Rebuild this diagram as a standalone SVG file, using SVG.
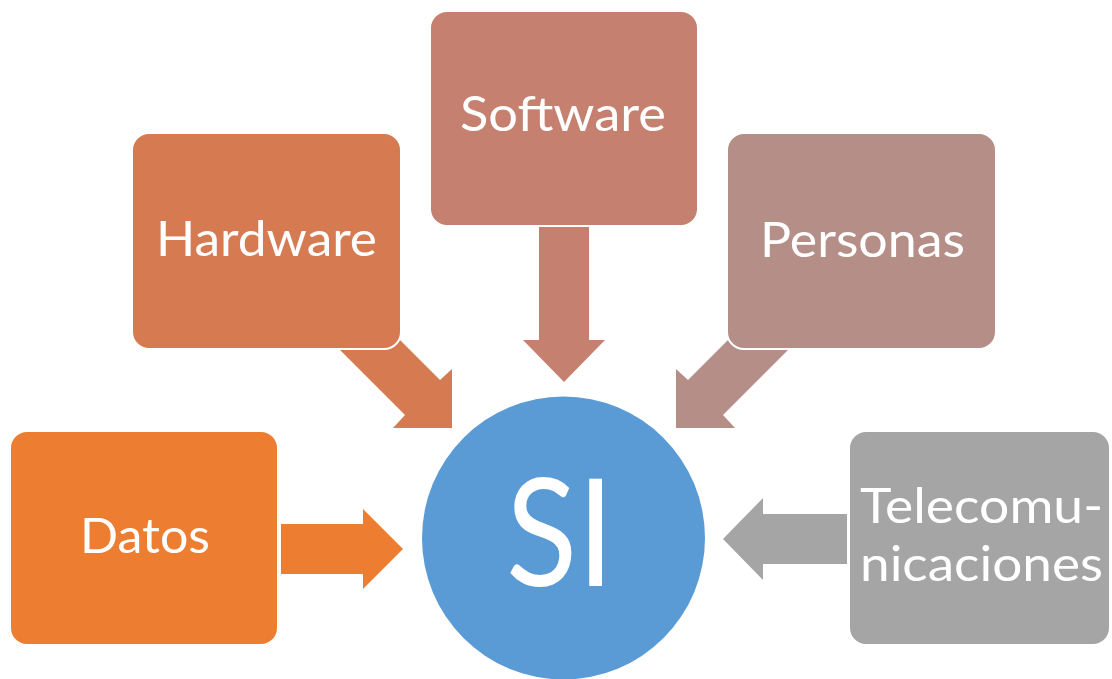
<svg xmlns="http://www.w3.org/2000/svg" width="1112" height="679" viewBox="0 0 1112 679">
  <style>
    .box { stroke: #ffffff; stroke-width: 2; }
    .lbl { font-family: Lato, "Open Sans", "Liberation Sans", sans-serif; font-size: 48px; fill: #ffffff; text-anchor: middle; }
    .hub { font-family: Lato, "Open Sans", "Liberation Sans", sans-serif; font-size: 150px; fill: #ffffff; text-anchor: middle; }
  </style>
  <rect width="1112" height="679" fill="#ffffff"/>

  <!-- block arrows pointing into the central circle (drawn beneath the boxes) -->
  <g id="connectors">
    <polygon fill="#ED7D31" points="281,524 363,524 363,509 403,549 363,589 363,574 281,574"/>
    <polygon fill="#D67B51" points="335,345 370,310 440,380 452,369 452,428 393,428 405,415"/>
    <polygon fill="#C5806F" points="539,226 589,226 589,340 605,340 564,382 523,340 539,340"/>
    <polygon fill="#B48E87" points="793,345 758,310 688,380 676,369 676,428 735,428 723,415"/>
    <polygon fill="#A5A5A5" points="847,514 763,514 763,498 723,539 763,580 763,564 847,564"/>
  </g>

  <g id="node-datos">
    <rect class="box" x="10" y="431" width="268" height="214" rx="17" fill="#ED7D31"/>
    <text class="lbl" x="145" y="553" textLength="130" lengthAdjust="spacingAndGlyphs">Datos</text>
  </g>

  <g id="node-hardware">
    <rect class="box" x="132" y="133" width="269" height="216" rx="17" fill="#D67B51"/>
    <text class="lbl" x="266.5" y="256" textLength="221" lengthAdjust="spacingAndGlyphs">Hardware</text>
  </g>

  <g id="node-software">
    <rect class="box" x="430" y="11" width="268" height="215" rx="17" fill="#C5806F"/>
    <text class="lbl" x="563" y="131" textLength="206" lengthAdjust="spacingAndGlyphs">Software</text>
  </g>

  <g id="node-personas">
    <rect class="box" x="727" y="133" width="269" height="216" rx="17" fill="#B48E87"/>
    <text class="lbl" x="862.5" y="257" textLength="205" lengthAdjust="spacingAndGlyphs">Personas</text>
  </g>

  <g id="node-telecom">
    <rect class="box" x="849" y="431" width="261" height="214" rx="17" fill="#A5A5A5"/>
    <text class="lbl" x="981.5" y="523" textLength="243" lengthAdjust="spacingAndGlyphs">Telecomu-</text>
    <text class="lbl" x="981.5" y="581" textLength="243" lengthAdjust="spacingAndGlyphs">nicaciones</text>
  </g>

  <g id="node-si">
    <circle cx="563.5" cy="538" r="141.5" fill="#5B9BD5"/>
    <text class="hub" x="560" y="586" textLength="108" lengthAdjust="spacingAndGlyphs">SI</text>
  </g>
</svg>
